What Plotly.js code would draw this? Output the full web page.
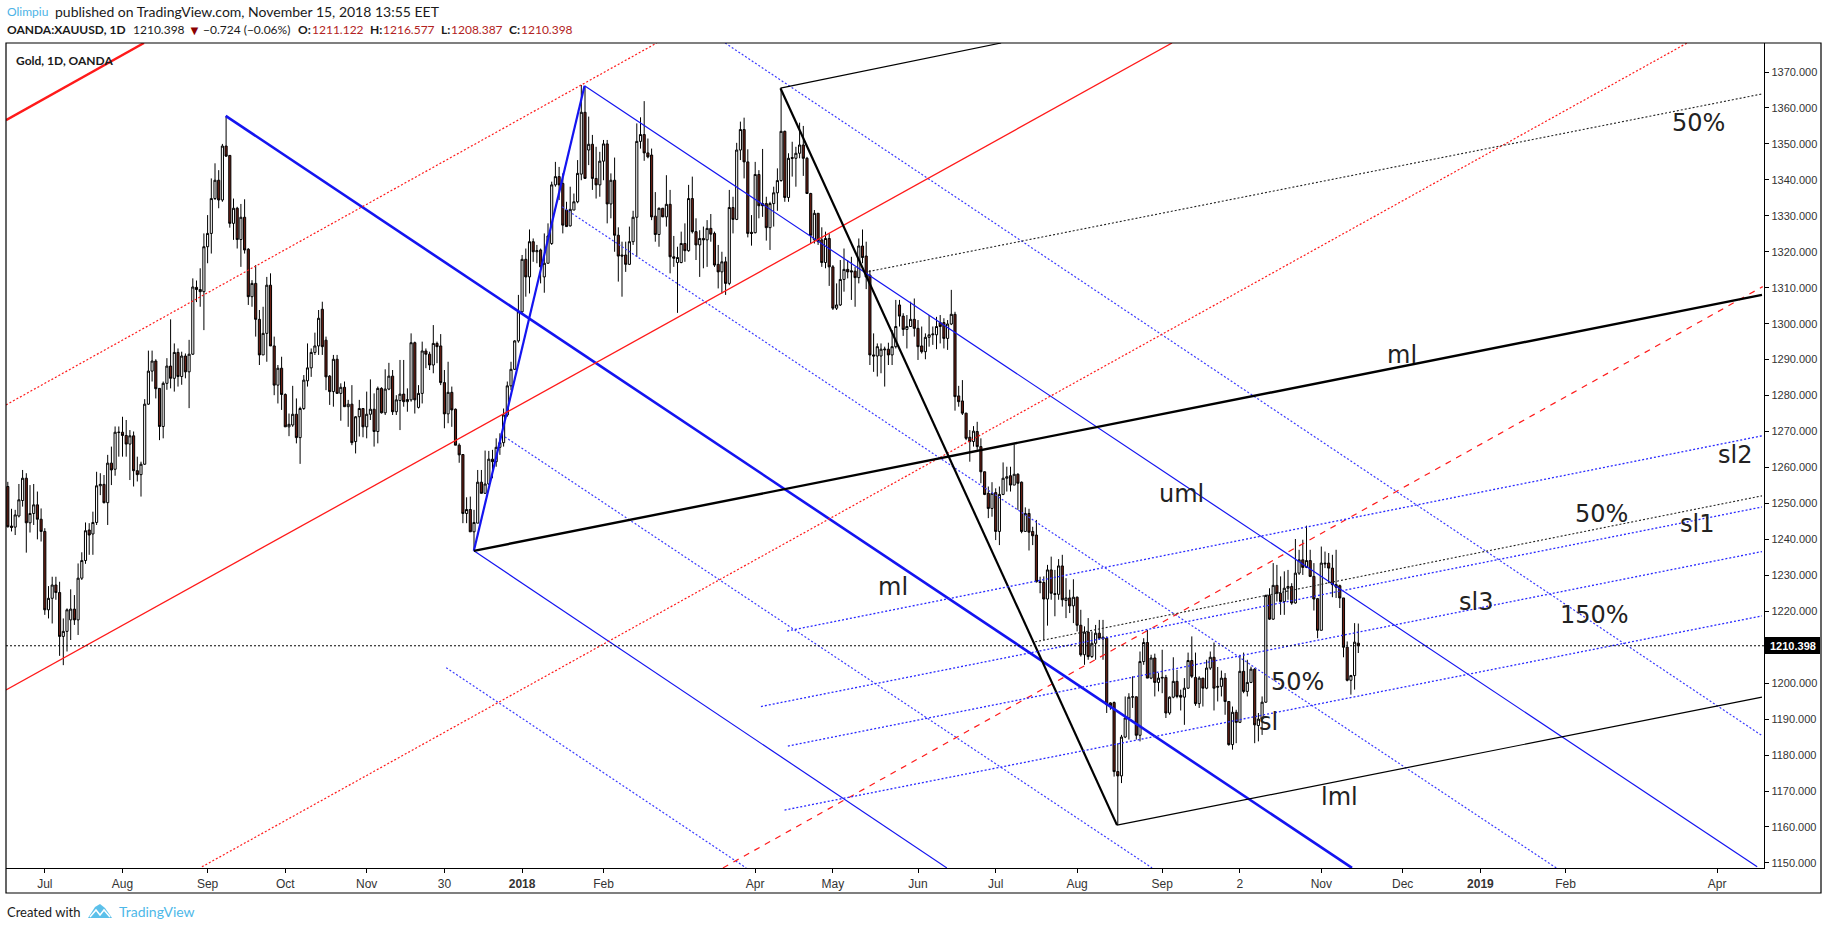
<!DOCTYPE html>
<html>
<head>
<meta charset="utf-8">
<script src="https://cdn.plot.ly/plotly-3.0.1.min.js"></script>
<style>html,body{margin:0;padding:0;background:#fff;overflow:hidden}</style>
</head>
<body>
<div id="chart" style="width:1828px;height:930px"></div>
<script>
// Daily candles: [open, high, low, close]
const candles2017Summer = [
[1254.7,1256.0,1243.3,1243.5],[1243.7,1248.5,1242.2,1243.3],[1243.4,1248.2,1241.2,1246.8],[1246.5,1255.4,1246.1,1251],[1250.8,1259.3,1249.1,1257],[1257,1258.4,1236.3,1244.6],[1244.6,1255.1,1241.9,1247.2],[1247.2,1255.4,1244,1249.6],[1249.6,1253.3,1240,1245.6],[1245.6,1248.6,1239.4,1242.2],
[1242.2,1243.1,1219,1220.4],[1220.4,1227,1218,1223.6],[1223.6,1229.6,1216.6,1227.3],[1227.3,1229.6,1223.2,1225.2],[1225.2,1228.2,1207.6,1213],[1213,1218,1205,1214.4],[1214.4,1220.8,1208.8,1220.4],[1217.6,1226.1,1212,1220.6],[1220.6,1224.5,1216.2,1217.6],[1217.6,1233.3,1213.4,1229.2],
[1229.2,1236.4,1228.7,1234.1],[1234.1,1244.7,1233.2,1242.4],[1242.6,1244.5,1235.7,1241.2],[1241.5,1247.7,1235.7,1244.7],[1244.7,1258.8,1244,1254.9],[1254.9,1258.4,1252.3,1255.3],[1255.3,1257.9,1250,1250.2],[1250.2,1263.5,1244,1261.2],[1261.2,1265.8,1255.1,1259.3],[1259.5,1271.4,1257.7,1269.8],
[1269.7,1271.4,1263,1269.8],[1269.8,1274.1,1263,1268.9],[1268.9,1273.2,1263,1266.5],[1266.5,1270.4,1256.5,1268.8],[1268.8,1270,1254.7,1259.1],[1259.1,1263,1256.1,1258],[1258,1261.6,1251.9,1260.9],[1260.9,1279,1260.7,1277.6],[1277.6,1292.5,1277.4,1286.8],[1286.8,1292.5,1283.9,1289.6],
[1289.6,1290.1,1279.2,1281.9],[1282,1282,1267.6,1271.4],[1271.4,1283.9,1268.1,1283.4],[1283.4,1290.4,1281.6,1288.2],[1288.2,1301.2,1282,1284.8],[1284.8,1294.5,1281.1,1292],[1292,1293.1,1282.5,1285.3],[1285.3,1292.2,1283,1291],[1291,1291.7,1284.8,1286.6],[1286.6,1295.5,1276.5,1291.5],
[1291.5,1312.6,1291.3,1310.2],[1310.1,1312,1306,1309.5],[1309.5,1315.4,1304.7,1308.9],[1308.9,1325.1,1298.2,1321.4]
];
const candles2017Autumn = [
[1321.4,1330.2,1316.8,1325.1],[1325.1,1340.4,1319.5,1334.8],[1334.8,1344.6,1334.4,1339.9],[1339.9,1342.7,1332.1,1334.4],[1334.4,1350,1333.9,1349.4],[1349.4,1357.7,1346.4,1346.6],[1346.8,1346.9,1326.7,1327.9],[1327.9,1334.8,1323.3,1332.1],[1332.1,1332.5,1320.9,1323.4],[1323.4,1333.3,1315.8,1329.6],
[1329.6,1334.6,1319.5,1320.5],[1320.7,1321,1305.2,1307.5],[1307.5,1312.1,1304.7,1311.2],[1311.2,1316.3,1296.4,1301.2],[1301.2,1303.8,1288.5,1291.3],[1291.3,1304.7,1291.3,1297.3],[1297.3,1313,1289.4,1310.7],[1310.7,1314,1293.8,1293.8],[1293.8,1296.4,1280.1,1282.9],[1282.9,1288.5,1277.8,1287.6],
[1287.6,1290.8,1276,1280.3],[1280.3,1280.6,1271.3,1271.3],[1271.3,1275,1268.7,1272],[1271.8,1282.7,1271.3,1274.8],[1274.8,1279.2,1266.7,1268.3],[1268.3,1276.9,1261,1276.4],[1276.4,1285.7,1276,1284.3],[1284.1,1294.5,1282.5,1287.7],[1287.7,1293.1,1285.2,1292],[1292,1297.5,1291.3,1293.8],
[1293.8,1303.8,1291.3,1301.5],[1304,1306.1,1291.3,1293.6],[1295.4,1296.4,1281.5,1285.2],[1285.4,1285.7,1277.4,1281.1],[1281.1,1291.3,1276.9,1290.1],[1290.1,1291.3,1280.6,1280.6],[1280.6,1283.4,1273,1282.3],[1282.3,1283.9,1276.9,1276.9],[1276.9,1278.8,1271.3,1277.6],[1277.6,1282.9,1266.2,1266.9],
[1267.2,1274.3,1263.9,1274.1],[1274.1,1278.8,1268.6,1276.4],[1276.4,1276.4,1268.4,1271.3],[1271.3,1281.1,1268.1,1274.8],[1274.8,1284.5,1273.2,1276.2],[1276.2,1280.6,1265.8,1270],[1270,1282.5,1266.7,1282],[1282,1282.3,1275,1275.2],[1275.2,1287.3,1274.6,1281.8],[1281.8,1289.1,1281.5,1285.4],
[1285.4,1287.1,1274.6,1275.5],[1275.5,1280.1,1274.6,1278.8],[1278.6,1289.9,1270.4,1280.4],[1280.4,1289.9,1276.9,1278.3],[1278.3,1282,1275.5,1278.9],[1278.8,1297.3,1278.3,1294.7],[1294.7,1295,1275,1278.8],[1276.7,1282.9,1276.4,1280.6],[1280.6,1295,1277.8,1292.4],[1292.4,1293.1,1287.6,1291.5],
[1291.5,1292.2,1287.1,1288.5],[1288.5,1299.6,1286.2,1294.5],[1294.5,1295,1289,1293.6],[1293.8,1297.1,1282.9,1283.6],[1283.6,1287.1,1270.9,1274.9],[1274.9,1289.4,1272.3,1280.9],[1280.9,1282.5,1271.3,1276],[1276.2,1276.4,1266.2,1266.2],[1266.2,1266.7,1261.3,1263.5],[1263.6,1263.7,1244.5,1247.2],
[1247.2,1251.7,1244.5,1248.3],[1248.3,1251.9,1242.1,1242.1],[1242.1,1248.2,1237,1244.7]
];
const candlesWinter = [
[1244.5,1259.3,1244.5,1255.9],[1255.9,1259.3,1252.8,1252.8],[1252.8,1264.7,1252.8,1255.4],[1255.4,1264.6,1255.1,1262.3],[1262.3,1264.9,1257,1261.6],[1261.6,1268.1,1260.2,1265.6],[1265.6,1269.5,1263.5,1266.9],[1266.9,1276.4,1265.8,1274.6],[1274.6,1283.9,1274.1,1282.7],[1282.7,1289.4,1281.5,1287.3],
[1287.3,1295.4,1287.1,1295.2],[1295.2,1308,1294.7,1303.3],[1303.3,1319.1,1303,1317.9],[1317.9,1320.9,1307.5,1313],[1313,1326.2,1308.4,1322.8],[1322.8,1323.7,1317.2,1320],[1320,1321.9,1316.8,1320.3],[1320.5,1320.9,1311.2,1315.8],[1313,1325.1,1308.6,1316.8],[1316.8,1327.9,1316.8,1324.4],
[1322.3,1339.5,1321.9,1338.6],[1338.6,1345,1338.1,1340.9],[1340.9,1343.6,1334.4,1338.6],[1339,1341.8,1325.1,1327.4],[1331.6,1333.9,1327,1327],[1327.2,1338.1,1327,1331.8],[1331.6,1336.2,1331.6,1333.9],[1333.9,1345.5,1333.5,1341.8],[1341.6,1366.4,1339.9,1358.8],[1358.8,1365.9,1340.4,1340.4],
[1348.3,1357.6,1344.1,1349.9],[1349.9,1352.5,1337.2,1340.4],[1340.4,1349.2,1334.8,1338.6],[1338.6,1347.8,1335.3,1345.2],[1345.2,1351.1,1339.9,1350],[1350,1351.1,1327.9,1333.3],[1333.3,1341.8,1329.3,1339.9],[1339.9,1346.2,1320,1324.6],[1324.6,1326.8,1311.7,1318.8],[1319.1,1322.8,1307.5,1318.8],
[1319.1,1322.8,1314.4,1316.5],[1316.5,1327,1316.3,1322.8],[1322.8,1331.4,1321.9,1329.6],[1329.6,1355.7,1318.6,1350.7],[1350.7,1357.4,1348.7,1352.6],[1352.6,1361.9,1345.3,1347.5],[1347.5,1351.5,1346,1346.4],[1346.9,1348.7,1328.8,1329.7],[1329.9,1336.6,1322.8,1324.8],[1324.8,1332.3,1321.4,1332.1],
[1332.1,1332.2,1329.7,1329.7],[1329.7,1341.3,1327,1333.2],[1333.2,1337.2,1314,1318.6],[1318.6,1324.4,1315.8,1318.2],[1317,1321.4,1303,1318.4],[1317,1325.6,1316.8,1322.3],[1322.3,1327.9,1317.2,1320.3],[1320.3,1338.6,1320,1334.8],[1334.8,1340.9,1325.1,1325.6],[1325.6,1329.3,1317.7,1321.9],
[1321.9,1326,1313,1323.7],[1323.7,1327,1315.4,1323.3],[1323.3,1328.8,1315.8,1326.5],[1326.5,1330.5,1322.8,1324.9],[1325.1,1325.6,1315.8,1316.3],[1316.5,1321.9,1309.8,1314.4],[1314.4,1320,1308.4,1317.2],[1317.2,1318.6,1308,1311.2],[1311.2,1337.2,1310.7,1332.3],[1332.3,1335.3,1325.1,1329],
[1329,1350.3,1328.8,1348.3],[1348.3,1356.2,1345.5,1354],[1354,1357.3,1340.4,1345],[1345,1348.5,1324,1325.1],[1325.4,1330.2,1321.7,1325.1],[1325.3,1345,1325.1,1341.5],[1341.5,1342.7,1329.3,1332.8],[1333.4,1348.6,1329.7,1332.8],[1333.4,1335.3,1323.1,1326.7],[1326.7,1333.9,1320.5,1333.4],
[1333.4,1338.1,1327,1336.4],[1336.4,1343.2,1331.4,1339.8],[1339.8,1365.4,1339.5,1353.5],[1353.5,1353.7,1333.9,1335.1],[1335.1,1347.4,1333.9,1346],[1346.2,1350.6,1340.9,1346],[1346,1349.2,1338.1,1347.4],[1347.4,1355.9,1346,1349.7],[1349.7,1355,1341.1,1346],[1346,1346.4,1336.2,1336.2]
];
const candlesSpring2018 = [
[1336.2,1336.4,1322.3,1324.6],[1323.3,1331.6,1322.3,1330.7],[1330.7,1330.7,1321.9,1322.8],[1323.3,1326.8,1315.8,1317],[1317,1325.6,1315.4,1323.7],[1323.7,1325.1,1310.5,1315.8],[1315.8,1316.3,1303.8,1304.3],[1304.3,1311.2,1303.8,1305.2],[1305.2,1317.7,1304.9,1312.3],[1312.3,1320.9,1308.9,1315.1],
[1315.1,1317.7,1312.6,1314.4],[1314.7,1318.6,1306.6,1314.4],[1314.6,1315.8,1304.7,1312.8],[1312.8,1323.7,1311.2,1321.6],[1321.6,1326.2,1316.8,1318.4],[1318.8,1322.8,1309.6,1313],[1313.5,1314.9,1288.5,1291.3],[1291.3,1297.3,1286.6,1291],[1291,1294.5,1285.3,1293.6],[1291,1294.5,1286.2,1292.9],
[1292.7,1293.6,1282.5,1292.9],[1292.9,1294.7,1288.5,1291.3],[1291.3,1298.2,1288.5,1293.6],[1293.6,1306.6,1293.1,1299.2],[1305.2,1306.6,1299.2,1302.1],[1302.1,1302.9,1296.6,1298.4],[1298.4,1302.4,1293.1,1299.2],[1299.2,1306.1,1299.2,1301.2],[1301.2,1307,1296.4,1298.7],[1298.7,1301,1289.9,1293.6],
[1293.8,1299.2,1291.7,1292.2],[1292.2,1297.3,1290.1,1296.2],[1296.2,1302.4,1293.6,1296.9],[1296.9,1299.2,1294.1,1297.1],[1296.9,1301.9,1292.9,1299.2],[1300.3,1302.4,1294.5,1299.2],[1300.3,1301.5,1293.1,1295.9],[1295.9,1301,1292.7,1299.9],[1299.9,1309.4,1299.6,1302.6],[1302.6,1303.3,1275.8,1279.7],
[1279.9,1282.7,1276.9,1278.3],[1278.5,1284.3,1274.6,1275.1],[1275.1,1275.2,1267.6,1268.1],[1268.4,1270.4,1261.6,1267.2],[1267.2,1271.5,1265.8,1270.1],[1270,1272.7,1264.9,1265.8],[1265.8,1268.1,1255.6,1258.8],[1258.8,1258.9,1252.3,1252.5],[1252.8,1254.7,1245.9,1248.6],[1248.6,1255.9,1246.3,1252.8],
[1253,1254.2,1239.8,1242.2],[1242.2,1254.7,1238.4,1252.5],[1252.5,1261.4,1252.3,1257],[1257,1260.2,1253.3,1257.4],[1257.7,1260.2,1253.3,1255.1],[1255.1,1266.4,1255.1,1258.1],[1258.1,1258.4,1248.2,1255.6],[1255.9,1256.1,1241.7,1242.2],[1242.2,1248.9,1242.2,1247.2],[1247.2,1248.5,1236.9,1242],
[1242.2,1243.5,1238.4,1241],[1241.2,1245.4,1228,1228.2],[1228.2,1229.6,1225,1228],[1228,1229.7,1212,1223.4]
];
const candlesLate2018 = [
[1223.4,1232.9,1216,1231.5],[1231.5,1235.2,1223.2,1225],[1224.9,1231.5,1218.6,1224.7],[1224.7,1234.5,1223.2,1232.6],[1232.6,1235.7,1221.3,1223.2],[1223,1229.2,1218.1,1223.7],[1223.7,1226,1219.5,1221.5],[1221.5,1228.9,1216.7,1223.9],[1223.9,1224.1,1214.4,1216.1],[1216.1,1220.4,1207.4,1207.9],
[1207.9,1215.8,1205.1,1214.2],[1214.2,1218.1,1206.5,1207.4],[1207.4,1214.4,1207,1211.1],[1211.1,1216.2,1206.5,1213.9],[1213.9,1217.6,1212.1,1212.5],[1212.8,1217.6,1206.5,1212.3],[1212.5,1213,1191.7,1194],[1194.5,1194.7,1192.6,1193.7],[1194.6,1194.9,1174,1175.4],[1175.4,1183.3,1160.6,1174.2],
[1174.2,1185.6,1172.2,1185],[1185,1196.3,1184.7,1190.3],[1190.3,1197.2,1184.3,1196.1],[1196.1,1201.9,1193.1,1196.2],[1196.2,1196.3,1184.3,1185.5],[1185.5,1208.8,1183.8,1206],[1206,1212.5,1205.1,1211.3],[1211.3,1214.8,1201.4,1201.4],[1201.4,1207.9,1201.1,1207],[1207,1208.2,1196.3,1200.2],
[1200.2,1202.8,1197.7,1201.4],[1201.4,1209.3,1197.2,1201.6],[1201.6,1202.3,1190.3,1191.7],[1191.7,1196.3,1191.2,1196.1],[1196.1,1207.2,1195.8,1200.5],[1200.5,1203.7,1195.8,1196.3],[1196.6,1198.2,1192.4,1196.1],[1196.1,1201.4,1188.4,1198.6],[1198.6,1208.5,1198.4,1206.3],[1206.3,1213,1201.4,1201.9],
[1201.6,1208.5,1193.7,1194.3],[1194.3,1201.9,1193.1,1201.4],[1201.4,1201.4,1193.5,1198.6],[1198.6,1206.5,1198.3,1204.2],[1204.2,1208.8,1203.7,1207.2],[1207.2,1211.3,1192.4,1198.6],[1199.1,1204.5,1194.9,1198.9],[1199.1,1203.5,1196.3,1201.4],[1201.4,1202.8,1191.2,1194.9],[1194.9,1194.9,1182.6,1182.9],
[1182.9,1193.5,1181.5,1191.9],[1191.9,1192.6,1183.3,1189.1],[1189.1,1207.9,1188.9,1203.3],[1203.3,1208.5,1197.2,1197.7],[1197.7,1206.5,1196.3,1200.2],[1200.2,1204.6,1200,1203.9],[1203.9,1204.2,1183.3,1188.4],[1188.2,1191.7,1183.8,1190],[1190,1196.3,1185.6,1194.7],[1194.7,1224.6,1194.5,1224.4],
[1224.4,1226.4,1217.6,1217.8],[1217.8,1233.4,1217.6,1227.2],[1227.2,1232.9,1222.7,1225],[1225,1229.7,1219,1222.7],[1222.7,1231.1,1219,1226.4],[1226.4,1231.5,1223.2,1226.9],[1226.9,1227.8,1221.8,1222.3],[1222.3,1240.1,1222.1,1230.6],[1230.6,1237.1,1230.1,1234.3],[1234.3,1239.9,1230.1,1232.2],
[1232.2,1243.8,1232,1234.1],[1234.1,1237.1,1229.5,1229.7],[1229.7,1233.4,1220.2,1223.4],[1223.5,1223.7,1212.5,1214.7],[1214.7,1238,1214.7,1233.4],[1233.4,1236.6,1232,1233.2],[1233.4,1236.2,1227.8,1232],[1232,1235.7,1223.9,1227.4],[1227.4,1237.1,1223.7,1226.7],[1227.1,1227.4,1220.9,1223.7],
[1223.7,1223.7,1207.2,1210],[1210,1211.6,1200.5,1200.8],[1200.8,1202.3,1196.8,1202.1],[1202.1,1216.7,1198.2,1211.4],[1211.122,1216.577,1208.387,1210.398]
];

// Axis labels: candle number of each date label
const tickIndex = [10,31,54,75,97,118,139,161,202,223,246,267,289,312,333,355,377,398,421,462];
const tickLabels = ['Jul','Aug','Sep','Oct','Nov','30','<b>2018</b>','Feb','Apr','May','Jun','Jul','Aug','Sep','2','Nov','Dec','<b>2019</b>','Feb','Apr'];
const lastPrice = 1210.398;

// Drawn trend lines: [candle number, price] for both ends
const blueMedian   = [[58.89,1357.8],[363.3,1148.6]];
const blueHandle   = [[155.88,1366.2],[125.96,1236.8]];
const blueUpper    = [[155.88,1366.2],[472.8,1148.9]];
const blueLower    = [[125.96,1236.8],[253.8,1148.6]];
const blueDotA     = [[193.87,1378.07],[474.1,1185.4]];
const blueDotB     = [[149.8,1332.5],[418.5,1148.6]];
const blueDotC     = [[134.34,1268.5],[309.26,1148.6]];
const blueDotD     = [[118.48,1204.3],[199.56,1148.6]];
const redHandle    = [[-0.49,1356.6],[36.8,1378.07]];
const redDotUpper  = [[-0.49,1277.4],[175.4,1378.07]];
const redMedian    = [[-0.49,1198.1],[314.65,1378.07]];
const redDotLower  = [[52.46,1148.9],[453.87,1378.07]];
const redDashed    = [[193.28,1148.6],[474.3,1310.3]];
const blackHandle  = [[208.83,1365.5],[299.79,1160.5]];
const blackMedian  = [[125.96,1236.8],[474.1,1308]];
const blackUpper   = [[208.83,1365.5],[268.47,1378.07]];
const blackLower   = [[299.79,1160.5],[474.1,1196.1]];
const black50Upper = [[232.67,1314.5],[474.1,1363.9]];
const black50Lower = [[277.65,1211.5],[474.1,1252.1]];
const sl2Line      = [[210.63,1214.5],[474.1,1268.8]];
const sl1Line      = [[203.55,1193.5],[474.1,1249]];
const sl3Line      = [[210.83,1182.5],[474.1,1236.6]];
const slLine       = [[209.93,1164.7],[474.1,1218.7]];

// Chart words: [text, candle number, price]
const chartWords = [
 ['50%',456.9,1355.8],['ml',376.8,1291.3],['sl2',466.8,1263.5],['uml',317.1,1252.6],
 ['50%',430.8,1247],['sl1',456.6,1244.3],['ml',239.3,1226.7],['sl3',396.8,1222.6],
 ['150%',428.9,1219],['50%',348.7,1200.3],['sl',340.6,1189.2],['lml',360,1168.3]
];

const candles = [].concat(candles2017Summer, candles2017Autumn, candlesWinter, candlesSpring2018, candlesLate2018);
const idx = candles.map((_, i) => i);

const BLUE = '#1414f0', RED = '#ff1a1a', BLACK = '#000', DOT = '2px,2px';
const lineStyles = [
 [blueMedian, BLUE, 2.6, 'solid'], [blueHandle, BLUE, 2.2, 'solid'], [blueUpper, BLUE, 1.2, 'solid'], [blueLower, BLUE, 1.2, 'solid'],
 [blueDotA, '#3a3aff', 1.2, DOT], [blueDotB, '#3a3aff', 1.2, DOT], [blueDotC, '#3a3aff', 1.2, DOT], [blueDotD, '#3a3aff', 1.2, DOT],
 [redHandle, RED, 2.4, 'solid'], [redDotUpper, RED, 1.2, DOT], [redMedian, RED, 1.3, 'solid'], [redDotLower, RED, 1.2, DOT], [redDashed, RED, 1.2, '6px,6px'],
 [blackHandle, BLACK, 2.2, 'solid'], [blackMedian, BLACK, 2.4, 'solid'], [blackUpper, BLACK, 1.2, 'solid'], [blackLower, BLACK, 1.2, 'solid'],
 [black50Upper, '#222', 1.1, DOT], [black50Lower, '#222', 1.1, DOT],
 [sl2Line, '#2a2aff', 1.3, DOT], [sl1Line, '#2a2aff', 1.3, DOT], [sl3Line, '#2a2aff', 1.3, DOT], [slLine, '#2a2aff', 1.3, DOT]
];

const traces = [{
  type: 'candlestick', x: idx,
  open: candles.map(r => r[0]), high: candles.map(r => r[1]), low: candles.map(r => r[2]), close: candles.map(r => r[3]),
  increasing: {line: {color: '#000', width: 1}, fillcolor: '#fff'},
  decreasing: {line: {color: '#000', width: 1}, fillcolor: '#6a1f14'},
  whiskerwidth: 0, hoverinfo: 'skip', showlegend: false
}].concat(lineStyles.map(([pts, color, width, dash]) => ({
  type: 'scatter', mode: 'lines', x: pts.map(p => p[0]), y: pts.map(p => p[1]),
  line: {color, width, dash}, hoverinfo: 'skip', showlegend: false
})), [{
  type: 'scatter', mode: 'lines', x: [-0.486, 474.65], y: [lastPrice, lastPrice],
  line: {color: '#000', width: 1, dash: '2px,2px'}, hoverinfo: 'skip', showlegend: false
}]);

// Page geometry helpers for the text and frame that sit around the plot
const PL = 6, PR = 1764, PT = 43, PB = 868;
const px = x => (x - PL) / (PR - PL);
const py = y => (PB - y) / (PB - PT);
const HEAD = 'Lato, "Open Sans", sans-serif';
const note = (text, x, y, size, color) => ({
  text, xref: 'paper', yref: 'paper', x: px(x), y: py(y), xanchor: 'left', yanchor: 'middle',
  showarrow: false, align: 'left', font: {family: HEAD, size, color: color || '#1a1a1a'}, borderpad: 0
});
const VAL = '#b22222';

const annotations = chartWords.map(([t, x, y]) => ({
  text: t, x, y, xref: 'x', yref: 'y', showarrow: false, xanchor: 'center', yanchor: 'middle',
  font: {family: '"DejaVu Sans", sans-serif', size: 24, color: '#222'}
})).concat([
  note('Olimpiu', 6, 12, 12, '#4db3e6'),
  note('published on TradingView.com, November 15, 2018 13:55 EET', 54, 12, 14),
  note('<b>OANDA:XAUUSD, 1D</b>', 6, 30, 12),
  note('1210.398', 131.5, 30, 12),
  note('▼', 187, 30, 13, '#8b0000'),
  note('−0.724 (−0.06%)', 201.6, 30, 12),
  note('<b>O:</b>', 297, 30, 12), note('1211.122', 311, 30, 12, VAL),
  note('<b>H:</b>', 368.5, 30, 12), note('1216.577', 382, 30, 12, VAL),
  note('<b>L:</b>', 439.7, 30, 12), note('1208.387', 450, 30, 12, VAL),
  note('<b>C:</b>', 508, 30, 12), note('1210.398', 519.5, 30, 12, VAL),
  note('<b>Gold, 1D, OANDA</b>', 15, 60, 12),
  note('Created with', 6, 912, 13),
  note('TradingView', 118, 912, 14, '#4db8e8'),
  {text: '<b>1210.398</b>', xref: 'paper', yref: 'y', x: px(1792.5), y: lastPrice, xanchor: 'center', yanchor: 'middle',
   showarrow: false, font: {family: '"Liberation Sans", Arial, sans-serif', size: 11, color: '#fff'}}
]);

const logoPath = 'M' + [[88,918],[95,907],[100,904],[105,908],[112,918]].map(p => px(p[0]) + ',' + py(p[1])).join(' L') + ' Z';
const logoZig = 'M' + [[90,917],[96,910],[100,915],[104,910],[110,917]].map(p => px(p[0]) + ',' + py(p[1])).join(' L');

const shapes = [
  {type: 'rect', xref: 'paper', yref: 'paper', x0: px(6), x1: px(1821), y0: py(893), y1: py(43), line: {color: '#000', width: 1.2}, fillcolor: 'rgba(0,0,0,0)', layer: 'above'},
  {type: 'rect', xref: 'paper', yref: 'paper', x0: px(1765), x1: px(1820), y0: py(654), y1: py(637), line: {width: 0}, fillcolor: '#000', layer: 'above'},
  {type: 'path', xref: 'paper', yref: 'paper', path: logoPath, line: {width: 0}, fillcolor: '#5cc0ea'},
  {type: 'path', xref: 'paper', yref: 'paper', path: logoZig, line: {width: 1.5, color: '#fff'}}
];

const layout = {
  width: 1828, height: 930, paper_bgcolor: '#fff', plot_bgcolor: '#fff',
  margin: {l: PL, r: 1828 - PR, t: PT, b: 930 - PB, pad: 0},
  showlegend: false, dragmode: false, annotations, shapes, boxgap: 0.18,
  xaxis: {
    type: 'linear', range: [-0.486, 474.65], rangeslider: {visible: false},
    tickmode: 'array', tickvals: tickIndex, ticktext: tickLabels, ticks: 'outside', ticklen: 4, tickcolor: '#000', tickwidth: 1,
    tickfont: {family: '"Liberation Sans", Arial, sans-serif', size: 12, color: '#333'}, tickangle: 0,
    showgrid: false, zeroline: false, showline: true, linecolor: '#000', linewidth: 1.2, mirror: false
  },
  yaxis: {
    type: 'linear', side: 'right', range: [1148.58, 1378.07], dtick: 10, tick0: 1150, tickformat: '.3f',
    ticks: 'outside', ticklen: 4, tickcolor: '#000', tickwidth: 1,
    tickfont: {family: '"Liberation Sans", Arial, sans-serif', size: 11, color: '#333'},
    showgrid: false, zeroline: false, showline: true, linecolor: '#000', linewidth: 1.2
  }
};

Plotly.newPlot('chart', traces, layout, {staticPlot: true, displayModeBar: false});
</script>
</body>
</html>
